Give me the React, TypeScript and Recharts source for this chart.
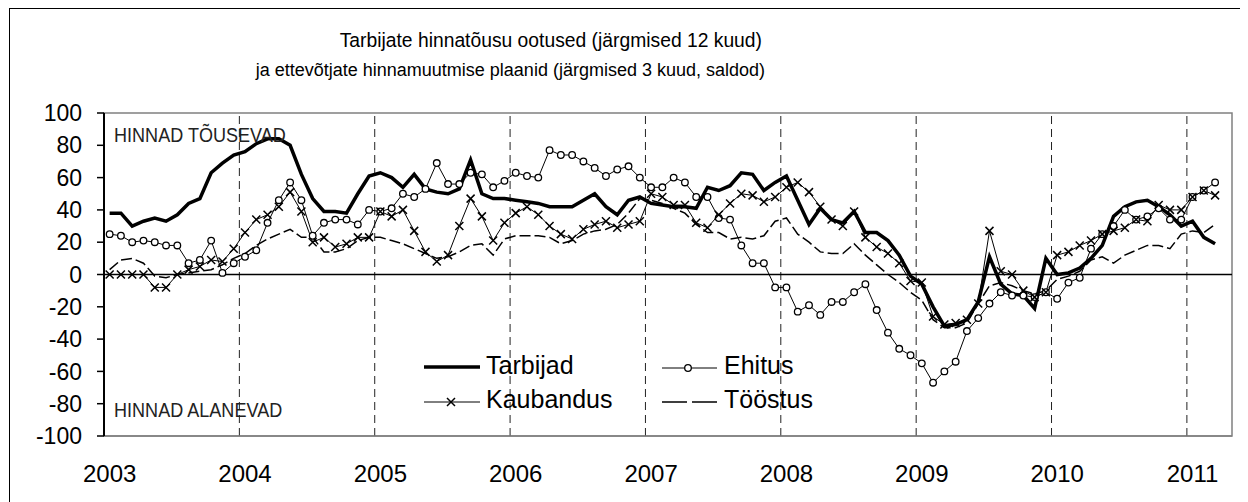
import React from "react";
import { LineChart, Line, XAxis, YAxis, ReferenceLine, ReferenceArea } from "recharts";

const FONT = '"Liberation Sans", Arial, sans-serif';

// monthly, Jan 2003 .. Mar 2011 (axis holds 100 month slots)
const years = [2003, 2004, 2005, 2006, 2007, 2008, 2009, 2010, 2011];
const yTicks = [-100, -80, -60, -40, -20, 0, 20, 40, 60, 80, 100];

const tarbijad = [
  38, 38, 30, 33, 35, 33, 37, 44, 47, 63, 69, 74,
  76, 81, 84, 84, 80, 62, 47, 39, 39, 38, 50, 61,
  63, 60, 54, 62, 53, 51, 50, 53, 71, 50, 47, 47,
  46, 45, 44, 42, 42, 42, 46, 50, 42, 37, 46, 48,
  44, 43, 42, 42, 41, 54, 52, 55, 63, 62, 52, 57,
  61, 46, 31, 41, 34, 32, 39, 26, 26, 21, 12, -1,
  -6, -20, -32, -31, -28, -17, 11, -6, -12, -13, -21, 10,
  0, 1, 4, 10, 18, 36, 42, 45, 46, 42, 37, 30,
  33, 23, 19,
];
const ehitus = [
  25, 24, 20, 21, 20, 18, 18, 7, 9, 21, 1, 7,
  11, 15, 32, 46, 57, 46, 24, 32, 34, 34, 31, 40,
  39, 41, 50, 48, 53, 69, 56, 56, 63, 62, 54, 58,
  63, 61, 60, 77, 74, 74, 70, 66, 61, 65, 67, 60,
  54, 54, 60, 57, 48, 48, 35, 34, 18, 7, 7, -8,
  -8, -23, -19, -25, -17, -17, -11, -6, -22, -36, -46, -50,
  -55, -67, -60, -54, -35, -27, -18, -11, -13, -13, -14, -11,
  -15, -5, -2, 16, 25, 30, 40, 34, 36, 41, 34, 34,
  48, 52, 57,
];
const kaubandus = [
  0, 0, 0, 0, -8, -8, 0, 3, 5, 9, 8, 16,
  26, 34, 37, 42, 51, 39, 20, 23, 17, 19, 23, 23,
  39, 36, 40, 27, 14, 8, 12, 30, 47, 36, 21, 32,
  38, 42, 37, 30, 25, 22, 28, 31, 33, 29, 31, 33,
  50, 48, 43, 43, 32, 29, 37, 44, 50, 49, 45, 48,
  54, 57, 51, 42, 34, 30, 39, 23, 17, 13, 7, -4,
  -5, -26, -31, -30, -28, -18, 27, 2, 0, -10, -14, -11,
  12, 14, 18, 21, 25, 27, 29, 34, 33, 43, 40, 40,
  48, 52, 49,
];
const toostus = [
  3, 9, 10, 7, -1, -2, 0, 1, 2, 3, 6, 10,
  13, 18, 22, 25, 28, 23, 23, 14, 14, 16, 21, 23,
  23, 21, 19, 16, 13, 10, 11, 14, 18, 19, 12, 22,
  24, 24, 24, 23, 19, 21, 25, 27, 28, 31, 38, 47,
  46, 44, 41, 38, 31, 26, 26, 22, 23, 22, 24, 33,
  35, 25, 20, 14, 13, 13, 19, 12, 6, 0, -5, -11,
  -16, -28, -33, -33, -30, -18, -7, -5, -7, -10, -12, -10,
  -3, -1, 2, 9, 11, 7, 12, 15, 18, 18, 16, 25,
  27, 26, 31,
];

const data = tarbijad.map((v, i) => ({
  x: i + 0.5,
  tarbijad: v,
  ehitus: ehitus[i],
  kaubandus: kaubandus[i],
  toostus: toostus[i],
}));

const yearTicks = years.map((_, k) => k * 12 + 0.5);
const yearLines = years.slice(1).map((_, k) => (k + 1) * 12);

function Cross(props: any) {
  const { cx, cy, index } = props;
  if (cx == null || cy == null) return <g key={index} />;
  const s = 4;
  return (
    <path
      key={index}
      d={`M${cx - s},${cy - s}L${cx + s},${cy + s}M${cx - s},${cy + s}L${cx + s},${cy - s}`}
      stroke="#000"
      strokeWidth={1.5}
      fill="none"
    />
  );
}

function LegendBox() {
  const t = { fontFamily: FONT, fontSize: 25, fill: "#000" };
  return (
    <g transform="translate(416,342)">
      <line x1={0} y1={17} x2={56} y2={17} stroke="#000" strokeWidth={3.5} />
      <text x={62} y={24} {...t}>Tarbijad</text>
      <line x1={0} y1={52} x2={56} y2={52} stroke="#000" strokeWidth={1} />
      <Cross cx={27} cy={52} index={0} />
      <text x={62} y={58} {...t}>Kaubandus</text>
      <line x1={238} y1={18} x2={293} y2={18} stroke="#000" strokeWidth={1} />
      <circle cx={264} cy={18} r={3.3} fill="#fff" stroke="#000" strokeWidth={1.3} />
      <text x={300} y={24} {...t}>Ehitus</text>
      <line x1={238} y1={52} x2={293} y2={52} stroke="#000" strokeWidth={1.5} strokeDasharray="25 5" />
      <text x={300} y={58} {...t}>Tööstus</text>
    </g>
  );
}

export default function App() {
  return (
    <div style={{ position: "relative", width: 1240, height: 494, overflow: "hidden", fontFamily: FONT }}>
      <div
        style={{
          position: "absolute",
          left: 1,
          top: 0,
          width: 1400,
          height: 700,
          borderLeft: "1.5px solid #000",
          borderTop: "1.5px solid #000",
        }}
      />
      <LineChart
        width={1240}
        height={494}
        data={data}
        margin={{ top: 105, right: 16, left: 0, bottom: 0 }}
        style={{ fontFamily: FONT }}
      >
        <ReferenceArea x1={0} x2={100} y1={-100} y2={100} fill="none" stroke="#808080" strokeWidth={1.5} />
        <XAxis
          type="number"
          dataKey="x"
          domain={[0, 100]}
          ticks={yearTicks}
          tickFormatter={(v: number) => String(2003 + Math.floor(v / 12))}
          interval={0}
          height={66}
          tickSize={0}
          tickMargin={29}
          tickLine={false}
          axisLine={{ stroke: "#808080", strokeWidth: 1.5 }}
          tick={{ fontSize: 24, fill: "#000" }}
        />
        <YAxis
          type="number"
          domain={[-100, 100]}
          ticks={yTicks}
          interval={0}
          width={96}
          tickSize={7}
          tickMargin={15}
          axisLine={{ stroke: "#000", strokeWidth: 2 }}
          tickLine={{ stroke: "#000", strokeWidth: 1.5 }}
          tick={{ fontSize: 23, fill: "#000" }}
        />
        {yearLines.map((x) => (
          <ReferenceLine key={x} x={x} stroke="#222" strokeWidth={1} strokeDasharray="8 5" />
        ))}
        <ReferenceLine y={0} stroke="#000" strokeWidth={1.5} />
        <Line
          dataKey="toostus"
          stroke="#000"
          strokeWidth={1.5}
          strokeDasharray="11 4"
          dot={false}
          activeDot={false}
          isAnimationActive={false}
        />
        <Line
          dataKey="ehitus"
          stroke="#000"
          strokeWidth={1}
          dot={{ r: 3.3, fill: "#fff", stroke: "#000", strokeWidth: 1.3 }}
          activeDot={false}
          isAnimationActive={false}
        />
        <Line
          dataKey="kaubandus"
          stroke="#000"
          strokeWidth={1}
          dot={(p: any) => <Cross {...p} key={p.index} />}
          activeDot={false}
          isAnimationActive={false}
        />
        <Line
          dataKey="tarbijad"
          stroke="#000"
          strokeWidth={3.5}
          dot={false}
          activeDot={false}
          isAnimationActive={false}
        />
      </LineChart>
      <svg
        width={1240}
        height={494}
        style={{ position: "absolute", left: 0, top: 0, pointerEvents: "none" }}
      >
        <text x={754} y={39} textAnchor="end" fontFamily={FONT} fontSize={19.3} fill="#000">
          Tarbijate hinnatõusu ootused (järgmised 12 kuud)
        </text>
        <text x={757} y={68} textAnchor="end" fontFamily={FONT} fontSize={18} fill="#000">
          ja ettevõtjate hinnamuutmise plaanid (järgmised 3 kuud, saldod)
        </text>
        <text transform="translate(106,134) scale(0.86,1)" fontFamily={FONT} fontSize={21} fill="#222">
          HINNAD TÕUSEVAD
        </text>
        <text transform="translate(106,409) scale(0.86,1)" fontFamily={FONT} fontSize={21} fill="#222">
          HINNAD ALANEVAD
        </text>
        <LegendBox />
      </svg>
    </div>
  );
}
